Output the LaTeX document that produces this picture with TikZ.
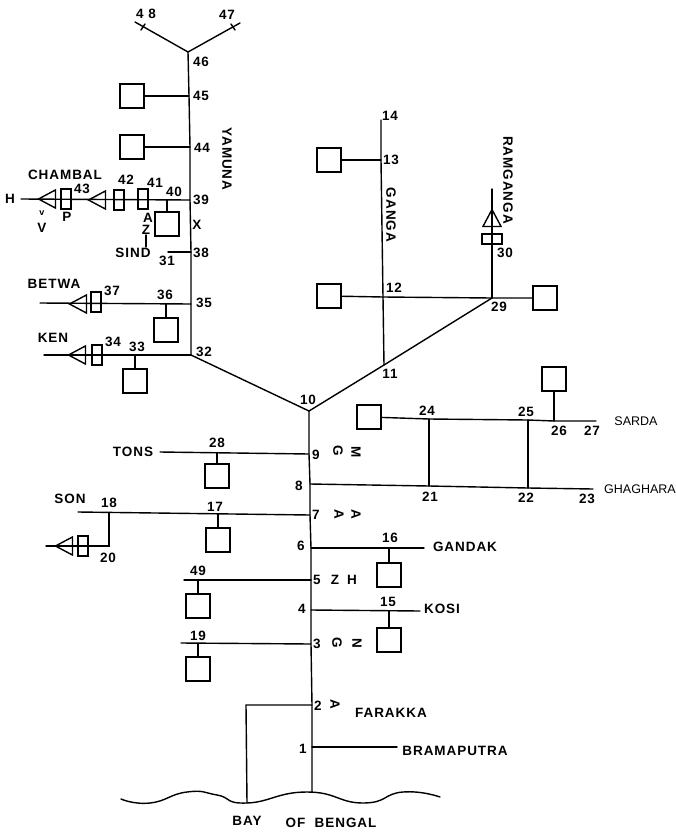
\documentclass[tikz,border=0pt]{standalone}
\usepackage{fontspec}
\setmainfont[LetterSpace=7]{Liberation Sans}
\newfontfamily\plainlabel{Liberation Sans}
\usetikzlibrary{positioning,shapes.geometric}

\tikzset{
  river/.style={line width=1.4pt, line cap=round},
  lbl/.style={font=\bfseries\fontsize{13.5}{14}\selectfont, inner sep=0pt},
  turned/.style={lbl, rotate=-90},
  plainlbl/.style={font=\plainlabel\fontsize{12.5}{13}\selectfont, inner sep=0pt},
  reservoir/.style={draw, line width=1.6pt, minimum size=24, inner sep=0pt},
  gatev/.style={draw, line width=1.2pt, minimum width=10, minimum height=20, inner sep=0pt},
  gateh/.style={draw, line width=1.2pt, minimum width=20, minimum height=10, inner sep=0pt},
  valve/.style={draw, line width=1.4pt, isosceles triangle, isosceles triangle apex angle=56,
    minimum height=17, inner sep=0pt, shape border rotate=180, anchor=apex},
  valveup/.style={valve, shape border rotate=90},
}

\begin{document}
\begin{tikzpicture}[x=1pt, y=-1pt]
  \useasboundingbox (0,0) rectangle (676,833);

  % junctions on the Yamuna
  \coordinate (n48) at (135,22);
  \coordinate (n47) at (240,23);
  \coordinate (n46) at (188,52);
  \coordinate (n45) at (189,96);
  \coordinate (n44) at (190,147);
  \coordinate (n39) at (190,200);
  \coordinate (n38) at (191,252);
  \coordinate (n35) at (191,304);
  \coordinate (n32) at (191,355);
  \coordinate (n10) at (309,411);
  % junctions on the main stem
  \coordinate (n9) at (309,454);
  \coordinate (n8) at (310,484);
  \coordinate (n7) at (310,515);
  \coordinate (n6) at (311,548);
  \coordinate (n5) at (311,580);
  \coordinate (n4) at (311,610);
  \coordinate (n3) at (311,644);
  \coordinate (n2) at (312,705);
  \coordinate (n1) at (312,747);
  \coordinate (sea) at (312,792);
  % junctions on the Ganga side
  \coordinate (n11) at (384,365);
  \coordinate (n12) at (383,297);
  \coordinate (n13) at (381,160);
  \coordinate (n14) at (381,120);
  \coordinate (n29) at (492,298);
  \coordinate (n30) at (492,189);
  % tributaries
  \coordinate (n40) at (167,200);
  \coordinate (chambalEnd) at (21,199);
  \coordinate (sindTop) at (146,235);
  \coordinate (sindEnd) at (146,247);
  \coordinate (n31) at (168,252);
  \coordinate (betwaEnd) at (40,303);
  \coordinate (n36) at (166,304);
  \coordinate (kenEnd) at (44,355);
  \coordinate (n33) at (135,355);
  \coordinate (tonsEnd) at (160,452);
  \coordinate (n28) at (217,453);
  \coordinate (sonEnd) at (78,512);
  \coordinate (n18) at (109,513);
  \coordinate (n17) at (218,514);
  \coordinate (n20) at (109,546);
  \coordinate (sonLow) at (46,546);
  \coordinate (gandakEnd) at (424,548);
  \coordinate (n16) at (389,548);
  \coordinate (kosiEnd) at (420,611);
  \coordinate (n15) at (389,611);
  \coordinate (n49) at (198,580);
  \coordinate (end49) at (184,580);
  \coordinate (n19) at (198,644);
  \coordinate (end19) at (181,643);
  \coordinate (bramaEnd) at (397,747);
  \coordinate (barrage) at (246,705);
  \coordinate (barrageSea) at (247,803);
  % Sarda and Ghaghara
  \coordinate (n24) at (429,419);
  \coordinate (n25) at (528,420);
  \coordinate (n26) at (554,421);
  \coordinate (n27) at (596,421);
  \coordinate (n21) at (429,486);
  \coordinate (n22) at (528,488);
  \coordinate (n23) at (593,489);
  % ticks at the top
  \coordinate (tick48a) at (141,30);
  \coordinate (tick48b) at (145,24);
  \coordinate (tick47a) at (231,24);
  \coordinate (tick47b) at (235,30);

  % reservoirs
  \node[reservoir] (sq45) at (132,96) {};
  \node[reservoir] (sq44) at (132,147) {};
  \node[reservoir] (sq40) at (167,224) {};
  \node[reservoir] (sq36) at (166,330) {};
  \node[reservoir] (sq33) at (135,381) {};
  \node[reservoir] (sq28) at (217,476) {};
  \node[reservoir] (sq17) at (218,540) {};
  \node[reservoir] (sq49) at (198,606) {};
  \node[reservoir] (sq19) at (198,669) {};
  \node[reservoir] (sq16) at (389,575) {};
  \node[reservoir] (sq15) at (389,640) {};
  \node[reservoir] (sq13) at (329,160) {};
  \node[reservoir] (sq12) at (329,296) {};
  \node[reservoir] (sq29) at (545,298) {};
  \node[reservoir] (sq24) at (369,417) {};
  \node[reservoir] (sq26) at (554,379) {};

  % gates and valves
  \node[valve] (tri43) at (37,199) {};
  \node[gatev] (gate43) at (66,199) {};
  \node[valve] (tri42) at (87,200) {};
  \node[gatev] (gate42) at (119,200) {};
  \node[gatev] (gate41) at (143,199) {};
  \node[valve] (triBetwa) at (68,304) {};
  \node[gatev] (gateBetwa) at (96,302) {};
  \node[valve] (triKen) at (67,355) {};
  \node[gatev] (gateKen) at (97,355) {};
  \node[valve] (triSon) at (54,546) {};
  \node[gatev] (gateSon) at (83,546) {};
  \node[valveup] (triRam) at (492,208) {};
  \node[gateh] (gateRam) at (492,239) {};

  % rivers
  \draw[river] (n48) -- (n46) -- (n47);
  \draw[river] (tick48a) -- (tick48b);
  \draw[river] (tick47a) -- (tick47b);
  \draw[river] (n46) -- (n45) -- (n44) -- (n39) -- (n38) -- (n35) -- (n32) -- (n10);
  \draw[river] (n10) -- (n9) -- (n8) -- (n7) -- (n6) -- (n5) -- (n4) -- (n3) -- (n2) -- (n1) -- (sea);
  \draw[river] (n10) -- (n11) -- (n29);
  \draw[river] (n14) -- (n13) -- (n12) -- (n11);
  \draw[river] (n29) -- (n30);
  \draw[river] (sq12) -- (n12) -- (n29) -- (sq29);
  \draw[river] (sq13) -- (n13);
  \draw[river] (sq45) -- (n45);
  \draw[river] (sq44) -- (n44);
  \draw[river] (chambalEnd) -- (n39);
  \draw[river] (n40) -- (sq40);
  \draw[river] (sindTop) -- (sindEnd);
  \draw[river] (n31) -- (n38);
  \draw[river] (betwaEnd) -- (n35);
  \draw[river] (n36) -- (sq36);
  \draw[river] (kenEnd) -- (n32);
  \draw[river] (n33) -- (sq33);
  \draw[river] (tonsEnd) -- (n9);
  \draw[river] (n28) -- (sq28);
  \draw[river] (sonEnd) -- (n7);
  \draw[river] (n17) -- (sq17);
  \draw[river] (n18) -- (n20) -- (sonLow);
  \draw[river] (n6) -- (gandakEnd);
  \draw[river] (n16) -- (sq16);
  \draw[river] (n4) -- (kosiEnd);
  \draw[river] (n15) -- (sq15);
  \draw[river] (end49) -- (n5);
  \draw[river] (n49) -- (sq49);
  \draw[river] (end19) -- (n3);
  \draw[river] (n19) -- (sq19);
  \draw[river] (n1) -- (bramaEnd);
  \draw[river] (n2) -- (barrage) -- (barrageSea);
  \draw[river] (sq24) -- (n24) -- (n25) -- (n26) -- (n27);
  \draw[river] (sq26) -- (n26);
  \draw[river] (n8) -- (n21) -- (n22) -- (n23);
  \draw[river] (n24) -- (n21);
  \draw[river] (n25) -- (n22);

  % coast
  \draw[river] plot[smooth, tension=0.9] coordinates {(121,799) (150,803) (187,792) (217,795)
    (247,803) (307,792) (363,803) (403,792) (440,797)};

  % numbers
  \node[lbl] (t48) at (146,14) {4 8};
  \node[lbl] (t47) at (227,15) {47};
  \node[lbl] (t46) at (201,62) {46};
  \node[lbl] (t45) at (201,96) {45};
  \node[lbl] (t44) at (202,148) {44};
  \node[lbl] (t43) at (82,189) {43};
  \node[lbl] (t42) at (126,180) {42};
  \node[lbl] (t41) at (155,183) {41};
  \node[lbl] (t40) at (174,192) {40};
  \node[lbl] (t39) at (201,200) {39};
  \node[lbl] (t38) at (201,253) {38};
  \node[lbl] (t31) at (167,261) {31};
  \node[lbl] (t37) at (112,291) {37};
  \node[lbl] (t36) at (165,295) {36};
  \node[lbl] (t35) at (204,303) {35};
  \node[lbl] (t34) at (113,342) {34};
  \node[lbl] (t33) at (137,347) {33};
  \node[lbl] (t32) at (204,352) {32};
  \node[lbl] (t10) at (308,400) {10};
  \node[lbl] (t9) at (316,455) {9};
  \node[lbl] (t8) at (299,486) {8};
  \node[lbl] (t7) at (316,515) {7};
  \node[lbl] (t6) at (301,546) {6};
  \node[lbl] (t5) at (317,580) {5};
  \node[lbl] (t4) at (302,609) {4};
  \node[lbl] (t3) at (317,644) {3};
  \node[lbl] (t2) at (318,706) {2};
  \node[lbl] (t1) at (303,749) {1};
  \node[lbl] (t28) at (217,443) {28};
  \node[lbl] (t18) at (109,503) {18};
  \node[lbl] (t17) at (215,507) {17};
  \node[lbl] (t20) at (108,558) {20};
  \node[lbl] (t49) at (198,571) {49};
  \node[lbl] (t19) at (198,636) {19};
  \node[lbl] (t16) at (390,538) {16};
  \node[lbl] (t15) at (388,602) {15};
  \node[lbl] (t14) at (390,116) {14};
  \node[lbl] (t13) at (391,160) {13};
  \node[lbl] (t12) at (394,288) {12};
  \node[lbl] (t11) at (390,374) {11};
  \node[lbl] (t30) at (505,253) {30};
  \node[lbl] (t29) at (499,307) {29};
  \node[lbl] (t24) at (427,411) {24};
  \node[lbl] (t25) at (526,412) {25};
  \node[lbl] (t26) at (559,431) {26};
  \node[lbl] (t27) at (592,431) {27};
  \node[lbl] (t21) at (430,497) {21};
  \node[lbl] (t22) at (526,498) {22};
  \node[lbl] (t23) at (587,499) {23};

  % river names
  \node[lbl] (chambal) at (65,175) {CHAMBAL};
  \node[lbl] (sind) at (133,253) {SIND};
  \node[lbl] (betwa) at (54,284) {BETWA};
  \node[lbl] (ken) at (53,338) {KEN};
  \node[lbl] (tons) at (133,452) {TONS};
  \node[lbl] (son) at (70,499) {SON};
  \node[lbl] (gandak) at (465,547) {GANDAK};
  \node[lbl] (kosi) at (442,609) {KOSI};
  \node[lbl] (farakka) at (391,713) {FARAKKA};
  \node[lbl] (brama) at (455,751) {BRAMAPUTRA};
  \node[lbl] (bay) at (247,821) {BAY};
  \node[lbl] (ofbengal) at (331,823) {OF\ \ BENGAL};
  \node[turned] (yamuna) at (227,159) {YAMUNA};
  \node[turned] (ganga) at (391,215) {GANGA};
  \node[turned] (ramganga) at (508,180) {RAMGANGA};
  \node[plainlbl] (sarda) at (636,421) {SARDA};
  \node[plainlbl] (ghaghara) at (640,489) {GHAGHARA};

  % small letters
  \node[lbl] (lblH) at (10,199) {H};
  \node[lbl, font=\bfseries\small] (lblv) at (42,213) {v};
  \node[lbl] (lblV) at (42,228) {V};
  \node[lbl] (lblP) at (67,217) {P};
  \node[lbl] (lblA) at (148,218) {A};
  \node[lbl] (lblZ) at (146,230) {Z};
  \node[lbl] (lblX) at (197,225) {X};
  \node[turned] (lblG9) at (338,451) {G};
  \node[turned] (lblM9) at (356,452) {M};
  \node[turned] (lblA7a) at (339,514) {A};
  \node[turned] (lblA7b) at (356,514) {A};
  \node[lbl] (lblZ5) at (335,580) {Z};
  \node[lbl] (lblH5) at (352,580) {H};
  \node[turned] (lblG3) at (337,643) {G};
  \node[turned] (lblN3) at (357,643) {N};
  \node[turned] (lblA2) at (335,704) {A};
\end{tikzpicture}
\end{document}
